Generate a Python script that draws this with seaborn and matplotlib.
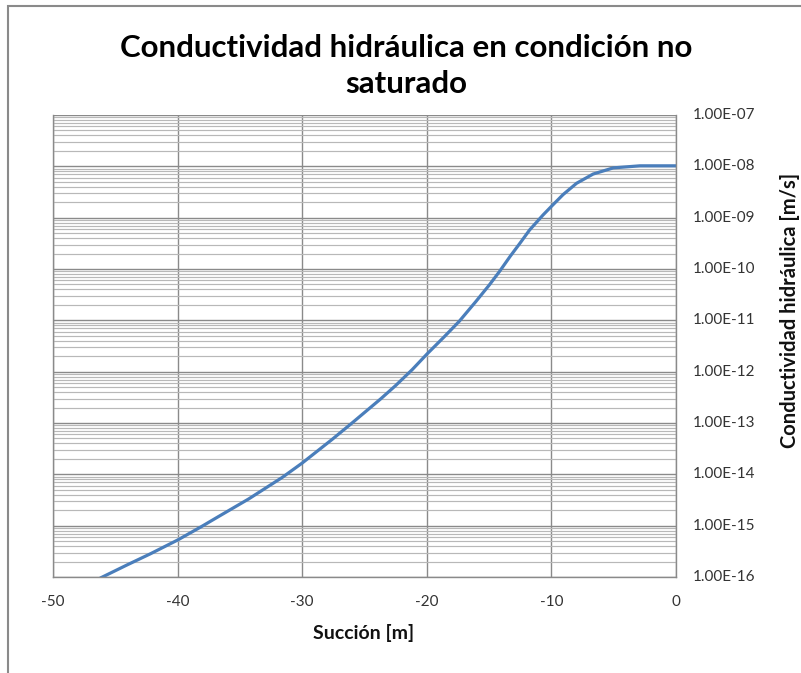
import numpy as np
import pandas as pd
import matplotlib
matplotlib.use("Agg")
import matplotlib.pyplot as plt
import matplotlib.ticker as mticker
from matplotlib.patches import Rectangle
import seaborn as sns

# Data
succion = [-46.2, -44.1, -42.2, -40.0, -38.1, -36.7, -34.3, -31.6, -30.0, -27.6,
           -26.0, -23.7, -22.5, -21.17, -20.0, -18.6, -17.4, -16.05, -14.98, -14.17,
           -13.3, -12.5, -11.75, -10.68, -10.0, -9.06, -7.98, -6.65, -5.03, -2.9, 0.0]
log_k = [-16.02, -15.77, -15.55, -15.28, -15.02, -14.82, -14.48, -14.06, -13.78, -13.32,
         -13.0, -12.53, -12.27, -11.96, -11.66, -11.32, -11.02, -10.63, -10.31, -10.05,
         -9.75, -9.49, -9.24, -8.95, -8.78, -8.55, -8.33, -8.15, -8.03, -7.99, -7.99]
conductividad = [10.0 ** v for v in log_k]

x_ticks = [-50, -40, -30, -20, -10, 0]
y_exponents = list(range(-16, -6))
y_labels = ["1.00E-%02d" % (-e) for e in y_exponents]

title = "Conductividad hidráulica en condición no\nsaturado"
xlabel = "Succión [m]"
ylabel = "Conductividad hidráulica [m/s]"

df = pd.DataFrame({"succion": succion, "k": conductividad})

sns.set_theme(style="white")
plt.rcParams["font.family"] = ["Lato", "DejaVu Sans"]

fig = plt.figure(figsize=(8.01, 6.73), dpi=100)
ax = fig.add_axes([53 / 801, 1 - 577 / 673, 623 / 801, 462 / 673])

sns.lineplot(data=df, x="succion", y="k", ax=ax, color="#4a7ebb", linewidth=2.3)

ax.set_yscale("log")
ax.set_xlim(-50, 0)
ax.set_ylim(1e-16, 1e-7)
ax.set_xticks(x_ticks)
ax.set_xticklabels([str(v) for v in x_ticks])
ax.set_yticks([10.0 ** e for e in y_exponents])
ax.set_yticklabels(y_labels)
ax.yaxis.set_minor_locator(mticker.LogLocator(base=10, subs=np.arange(2, 10), numticks=200))
ax.yaxis.set_minor_formatter(mticker.NullFormatter())
ax.yaxis.tick_right()

ax.grid(True, which="major", axis="both", color="#8a8a8a", linewidth=1.0)
ax.grid(True, which="minor", axis="y", color="#b8b8b8", linewidth=0.85)
ax.set_axisbelow(True)

for side in ["left", "bottom", "right"]:
    ax.spines[side].set_visible(True)
    ax.spines[side].set_color("#8a8a8a")
    ax.spines[side].set_linewidth(1.0)
ax.spines["top"].set_visible(False)

ax.tick_params(axis="y", which="both", length=0, pad=12, labelsize=11, labelcolor="#333333")
ax.tick_params(axis="x", which="both", length=0, pad=13, labelsize=11, labelcolor="#333333")
for lab in ax.get_yticklabels():
    lab.set_verticalalignment("center")

ax.set_xlabel("")
ax.set_ylabel("")
fig.text(364 / 801, 1 - 633 / 673, xlabel, ha="center", va="center",
         fontsize=14, fontweight="bold", color="#111111")
fig.text(790 / 801, 1 - 310 / 673, ylabel, ha="center", va="center",
         rotation=90, fontsize=14.5, fontweight="bold", color="#111111")
fig.text(406 / 801, 1 - 66 / 673, title, ha="center", va="center",
         fontsize=22.5, fontweight="bold", color="#000000", linespacing=1.35)

fig.patches.append(Rectangle((8 / 801, -0.05), 1.2, (1 - 6 / 673) + 0.05,
                             transform=fig.transFigure, fill=False,
                             edgecolor="#8a8a8a", linewidth=1.5))

fig.savefig("out.png", dpi=100)
